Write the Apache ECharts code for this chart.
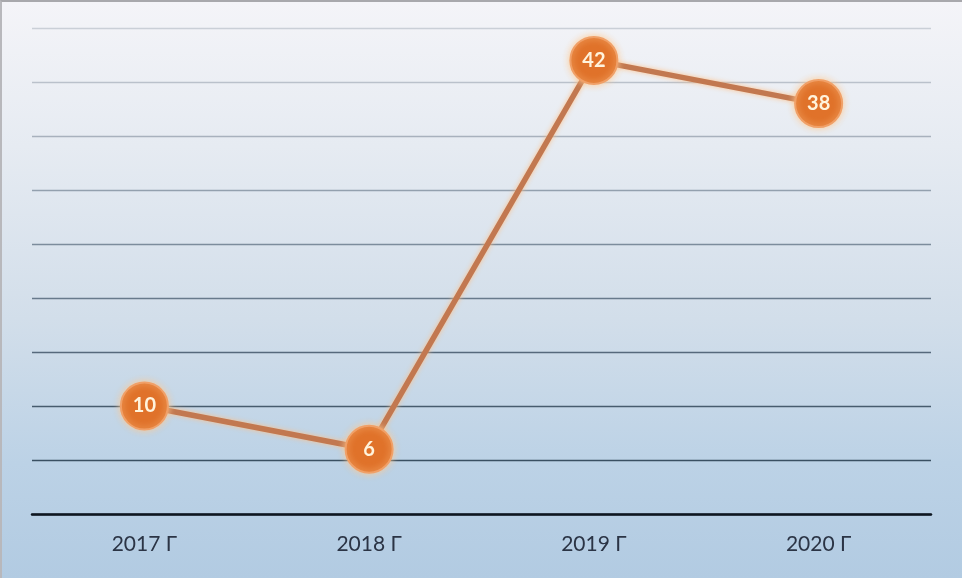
<!DOCTYPE html>
<html>
<head>
<meta charset="utf-8">
<script src="https://cdn.jsdelivr.net/npm/echarts@6/dist/echarts.min.js"></script>
<style>
html,body{margin:0;padding:0;}
#c{width:962px;height:578px;box-sizing:border-box;border-top:2px solid #a8a8ac;border-left:2px solid #b8b8bc;
background:linear-gradient(to bottom,#f4f4f8 0%,#e6ebf2 25%,#d2deea 55%,#bcd2e6 80%,#b2cbe2 100%);}
</style>
</head>
<body>
<div id="c"></div>
<script>
const categories = ['2017 Г', '2018 Г', '2019 Г', '2020 Г'];
const values = [10, 6, 42, 38];
const yMin = 0, yMax = 45, yStep = 5;

const chart = echarts.init(document.getElementById('c'));
chart.setOption({
  backgroundColor: 'transparent',
  grid: {left: 30, right: 31, top: 26, bottom: 64},
  xAxis: {
    type: 'category',
    data: categories,
    boundaryGap: true,
    axisLine: {lineStyle: {color: '#0e1620', width: 2.5}},
    axisTick: {show: false},
    axisLabel: {fontFamily: 'Lato', fontSize: 21, color: '#2b3445', margin: 20}
  },
  yAxis: {
    type: 'value',
    min: yMin, max: yMax, interval: yStep,
    axisLine: {show: false},
    axisTick: {show: false},
    axisLabel: {show: false},
    splitLine: {lineStyle: {width: 1.4, color: ['#0e1620','#3a5062','#475c6e','#56697c','#687a8c','#7c8c9c','#93a0ae','#a8b1bd','#bac1cb','#cacfd7']}}
  },
  series: [{
    type: 'line',
    data: values,
    symbol: 'circle',
    symbolSize: 47,
    lineStyle: {color: '#c27850', width: 5.5, shadowColor: 'rgba(255,190,130,0.9)', shadowBlur: 5},
    itemStyle: {color: '#e0722a', borderColor: '#f0a068', borderWidth: 2, shadowColor: 'rgba(255,200,140,0.9)', shadowBlur: 7},
    label: {show: true, position: 'inside', color: '#fff3dc', fontFamily: 'Lato', fontWeight: 'bold', fontSize: 20},
    emphasis: {disabled: true},
    z: 3
  }],
  animation: false
});
</script>
</body>
</html>
